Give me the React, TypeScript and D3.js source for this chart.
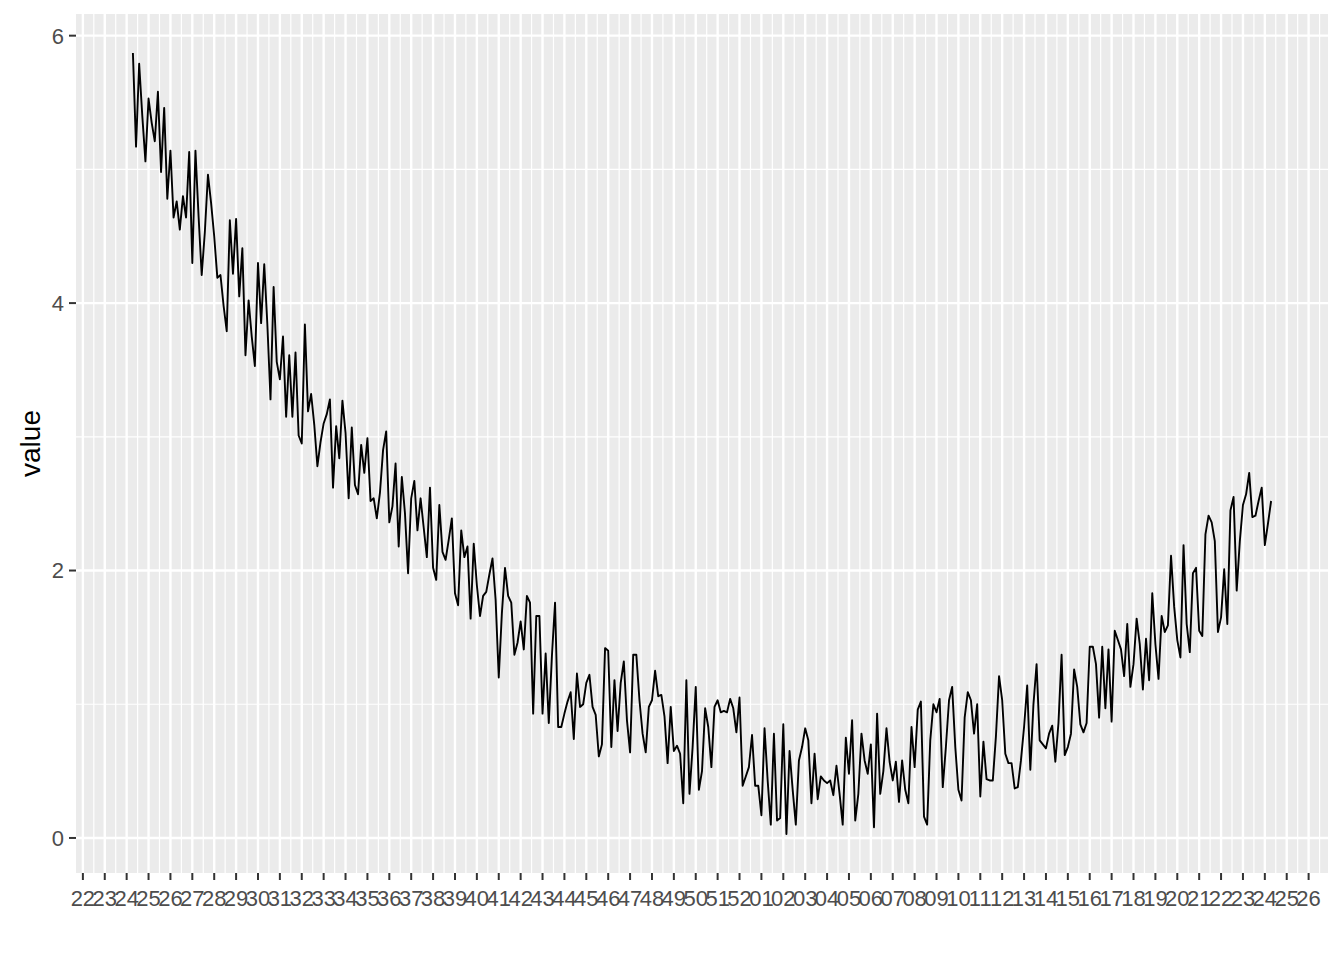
import React from "react";
import * as d3 from "d3";

// Week-number labels shown under each weekly break on the x axis
const weekLabels = [
  "22","23","24","25","26","27","28","29","30","31","32","33","34","35","36","37","38","39","40","41",
  "42","43","44","45","46","47","48","49","50","51","52","01","02","03","04","05","06","07","08","09",
  "10","11","12","13","14","15","16","17","18","19","20","21","22","23","24","25","26",
];

// day offset of the first observation, counted from the first weekly break
const startDay = 16;

// daily observations
const values = [
  5.87, 5.17, 5.79, 5.40, 5.06, 5.53, 5.35, 5.21, 5.58, 4.98,
  5.46, 4.78, 5.14, 4.64, 4.76, 4.55, 4.80, 4.64, 5.13, 4.30,
  5.14, 4.65, 4.21, 4.53, 4.96, 4.75, 4.50, 4.19, 4.21, 3.98,
  3.79, 4.62, 4.22, 4.63, 4.05, 4.41, 3.61, 4.02, 3.75, 3.53,
  4.30, 3.85, 4.29, 3.84, 3.28, 4.12, 3.56, 3.43, 3.75, 3.15,
  3.61, 3.15, 3.63, 3.01, 2.95, 3.84, 3.19, 3.32, 3.09, 2.78,
  2.96, 3.10, 3.17, 3.28, 2.62, 3.08, 2.84, 3.27, 3.03, 2.54,
  3.07, 2.64, 2.57, 2.94, 2.73, 2.99, 2.52, 2.54, 2.39, 2.58,
  2.90, 3.04, 2.36, 2.48, 2.80, 2.18, 2.70, 2.43, 1.98, 2.54,
  2.67, 2.30, 2.54, 2.32, 2.10, 2.62, 2.02, 1.93, 2.49, 2.14,
  2.08, 2.23, 2.39, 1.83, 1.74, 2.30, 2.10, 2.18, 1.64, 2.20,
  1.89, 1.66, 1.81, 1.84, 1.97, 2.09, 1.78, 1.20, 1.68, 2.02,
  1.81, 1.76, 1.37, 1.46, 1.62, 1.41, 1.81, 1.76, 0.93, 1.66,
  1.66, 0.93, 1.38, 0.86, 1.36, 1.76, 0.83, 0.83, 0.93, 1.02,
  1.09, 0.74, 1.23, 0.98, 1.00, 1.16, 1.22, 0.98, 0.92, 0.61,
  0.70, 1.42, 1.40, 0.68, 1.18, 0.80, 1.16, 1.32, 0.88, 0.64,
  1.37, 1.37, 1.03, 0.78, 0.64, 0.98, 1.03, 1.25, 1.06, 1.07,
  0.91, 0.56, 0.98, 0.65, 0.69, 0.63, 0.26, 1.18, 0.33, 0.68,
  1.13, 0.36, 0.50, 0.97, 0.83, 0.53, 0.98, 1.03, 0.94, 0.95,
  0.94, 1.04, 0.97, 0.79, 1.05, 0.39, 0.46, 0.53, 0.77, 0.39,
  0.39, 0.17, 0.82, 0.43, 0.10, 0.78, 0.13, 0.15, 0.85, 0.03,
  0.65, 0.36, 0.10, 0.58, 0.68, 0.82, 0.73, 0.26, 0.63, 0.29,
  0.46, 0.43, 0.41, 0.43, 0.32, 0.54, 0.33, 0.10, 0.75, 0.48,
  0.88, 0.13, 0.33, 0.78, 0.58, 0.48, 0.70, 0.08, 0.93, 0.33,
  0.50, 0.82, 0.57, 0.43, 0.57, 0.27, 0.58, 0.36, 0.26, 0.83,
  0.53, 0.96, 1.02, 0.16, 0.10, 0.73, 1.00, 0.94, 1.04, 0.38,
  0.68, 1.03, 1.13, 0.68, 0.36, 0.28, 0.90, 1.09, 1.03, 0.78,
  1.00, 0.31, 0.72, 0.44, 0.43, 0.43, 0.76, 1.21, 1.03, 0.63,
  0.56, 0.56, 0.37, 0.38, 0.58, 0.83, 1.14, 0.51, 1.00, 1.30,
  0.73, 0.70, 0.67, 0.78, 0.84, 0.57, 0.86, 1.37, 0.62, 0.68,
  0.78, 1.26, 1.13, 0.85, 0.79, 0.86, 1.43, 1.43, 1.30, 0.90,
  1.43, 0.97, 1.41, 0.87, 1.55, 1.48, 1.41, 1.21, 1.60, 1.13,
  1.30, 1.64, 1.45, 1.11, 1.49, 1.18, 1.83, 1.45, 1.19, 1.66,
  1.54, 1.59, 2.11, 1.73, 1.48, 1.35, 2.19, 1.60, 1.39, 1.98,
  2.02, 1.55, 1.51, 2.27, 2.41, 2.36, 2.22, 1.54, 1.65, 2.01,
  1.60, 2.45, 2.55, 1.85, 2.22, 2.49, 2.57, 2.73, 2.40, 2.41,
  2.52, 2.62, 2.19, 2.35, 2.52,
];

const yBreaks = [0, 2, 4, 6];
const yMinorBreaks = [1, 3, 5];
const yTitle = "value";

const W = 1344;
const H = 960;
const P = { left: 76, right: 1328, top: 14, bottom: 873 };
const FONT = "'Liberation Sans', Arial, Helvetica, sans-serif";

export default function App() {
  const days = values.map((_, i) => startDay + i);
  const [x0, x1] = d3.extent(days) as [number, number];
  const xPad = (x1 - x0) * 0.05;
  const x = d3.scaleLinear().domain([x0 - xPad, x1 + xPad]).range([P.left, P.right]);

  const [y0, y1] = d3.extent(values) as [number, number];
  const yPad = (y1 - y0) * 0.05;
  const y = d3.scaleLinear().domain([y0 - yPad, y1 + yPad]).range([P.bottom, P.top]);

  const [dLo, dHi] = x.domain();
  const majorDays = weekLabels.map((_, k) => 7 * k);
  const minorDays = majorDays.map((d) => d + 3.5).filter((d) => d >= dLo && d <= dHi);

  const line = d3
    .line<number>()
    .x((_, i) => x(days[i]))
    .y((v) => y(v));

  const gridMajor = 2.4;
  const gridMinor = 1.2;

  return (
    <svg
      width={W}
      height={H}
      style={{ position: "absolute", left: 0, top: 0, background: "#FFFFFF" }}
      fontFamily={FONT}
    >
      <rect x={0} y={0} width={W} height={H} fill="#FFFFFF" />
      <rect x={P.left} y={P.top} width={P.right - P.left} height={P.bottom - P.top} fill="#EBEBEB" />

      {/* minor grid */}
      {yMinorBreaks.map((v) => (
        <line key={"ym" + v} x1={P.left} x2={P.right} y1={y(v)} y2={y(v)} stroke="#FFFFFF" strokeWidth={gridMinor} />
      ))}
      {minorDays.map((d) => (
        <line key={"xm" + d} x1={x(d)} x2={x(d)} y1={P.top} y2={P.bottom} stroke="#FFFFFF" strokeWidth={gridMinor} />
      ))}
      {/* major grid */}
      {yBreaks.map((v) => (
        <line key={"yM" + v} x1={P.left} x2={P.right} y1={y(v)} y2={y(v)} stroke="#FFFFFF" strokeWidth={gridMajor} />
      ))}
      {majorDays.map((d) => (
        <line key={"xM" + d} x1={x(d)} x2={x(d)} y1={P.top} y2={P.bottom} stroke="#FFFFFF" strokeWidth={gridMajor} />
      ))}

      {/* data line */}
      <path d={line(values) || ""} fill="none" stroke="#000000" strokeWidth={1.9} strokeLinejoin="round" />

      {/* y axis */}
      {yBreaks.map((v) => (
        <g key={"yt" + v}>
          <line x1={P.left - 7} x2={P.left} y1={y(v)} y2={y(v)} stroke="#333333" strokeWidth={2} />
          <text x={P.left - 12} y={y(v)} dy="0.36em" textAnchor="end" fontSize={22} fill="#4D4D4D">
            {String(v)}
          </text>
        </g>
      ))}

      {/* x axis */}
      {majorDays.map((d, k) => (
        <g key={"xt" + d}>
          <line x1={x(d)} x2={x(d)} y1={P.bottom} y2={P.bottom + 7} stroke="#333333" strokeWidth={2} />
          <text x={x(d)} y={P.bottom + 33} textAnchor="middle" fontSize={22} fill="#4D4D4D">
            {weekLabels[k]}
          </text>
        </g>
      ))}

      <text
        transform={`translate(40,${(P.top + P.bottom) / 2}) rotate(-90)`}
        textAnchor="middle"
        fontSize={28}
        fill="#000000"
      >
        {yTitle}
      </text>
    </svg>
  );
}
